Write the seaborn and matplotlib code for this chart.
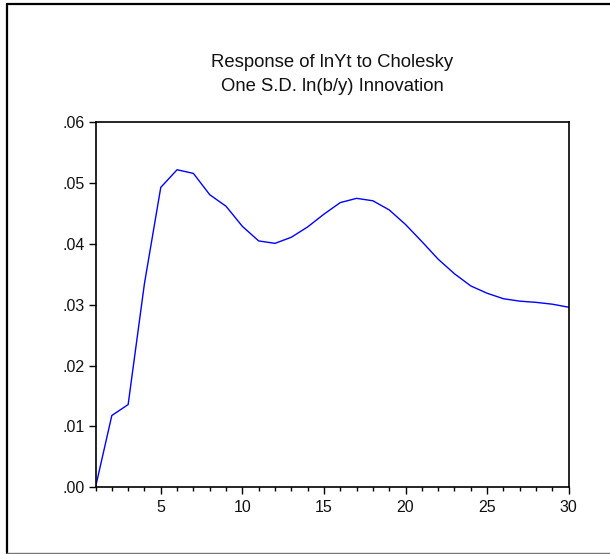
import matplotlib
matplotlib.use("Agg")
import matplotlib.pyplot as plt
import seaborn as sns
import pandas as pd
from matplotlib.ticker import MultipleLocator, FixedLocator
from matplotlib.lines import Line2D

sns.set_style("white")
plt.rcParams['font.family'] = ['Liberation Sans', 'DejaVu Sans']

periods = list(range(1, 31))
response = [0.0000, 0.0118, 0.0136, 0.0335, 0.0493, 0.0522, 0.0516, 0.0481,
            0.0462, 0.0429, 0.0405, 0.0401, 0.0411, 0.0428, 0.0449, 0.0468,
            0.0475, 0.0471, 0.0456, 0.0432, 0.0404, 0.0375, 0.0351, 0.0331,
            0.0319, 0.0310, 0.0306, 0.0304, 0.0301, 0.0296]
y_ticks = [0.00, 0.01, 0.02, 0.03, 0.04, 0.05, 0.06]
y_labels = [".00", ".01", ".02", ".03", ".04", ".05", ".06"]
x_ticks = [5, 10, 15, 20, 25, 30]
title_lines = ["Response of lnYt to Cholesky", "One S.D. ln(b/y) Innovation"]

df = pd.DataFrame({"period": periods, "response": response})

W, H = 610, 554
fig = plt.figure(figsize=(W / 100, H / 100), dpi=100)
ax = fig.add_axes([95.5 / W, 1 - 487.3 / H, (568.7 - 95.5) / W, (487.3 - 122.3) / H])

sns.lineplot(data=df, x="period", y="response", ax=ax, color="#0000ff", linewidth=1.0)

ax.set_xlim(1, 30)
ax.set_ylim(0, 0.06)
ax.set_xlabel("")
ax.set_ylabel("")
ax.xaxis.set_major_locator(FixedLocator(x_ticks))
ax.xaxis.set_minor_locator(MultipleLocator(1))
ax.yaxis.set_major_locator(FixedLocator(y_ticks))
ax.set_yticklabels(y_labels)
ax.tick_params(axis="both", which="major", direction="out", length=5, width=1,
               color="black", labelsize=11.5, labelcolor="#111111", bottom=True, left=True)
ax.tick_params(axis="x", which="minor", direction="out", length=3, width=1,
               color="black", bottom=True)
ax.tick_params(axis="x", pad=4)
ax.tick_params(axis="y", pad=3)
for s in ax.spines.values():
    s.set_color("black")
    s.set_linewidth(1.2)

fig.text(332 / W, 1 - 67 / H, title_lines[0], ha="center", va="baseline",
         fontsize=13.3, color="#111111")
fig.text(332 / W, 1 - 91 / H, title_lines[1], ha="center", va="baseline",
         fontsize=13.3, color="#111111")

# outer frame
fig.add_artist(Line2D([7 / W, 7 / W], [1 - 553 / H, 1 - 4 / H], color="black",
                      linewidth=1.6, transform=fig.transFigure))
fig.add_artist(Line2D([7 / W, 1.0], [1 - 4 / H, 1 - 4 / H], color="black",
                      linewidth=1.6, transform=fig.transFigure))
fig.add_artist(Line2D([7 / W, 1.0], [1 - 553 / H, 1 - 553 / H], color="#777777",
                      linewidth=1.0, transform=fig.transFigure))

fig.savefig("out.png", dpi=100)
